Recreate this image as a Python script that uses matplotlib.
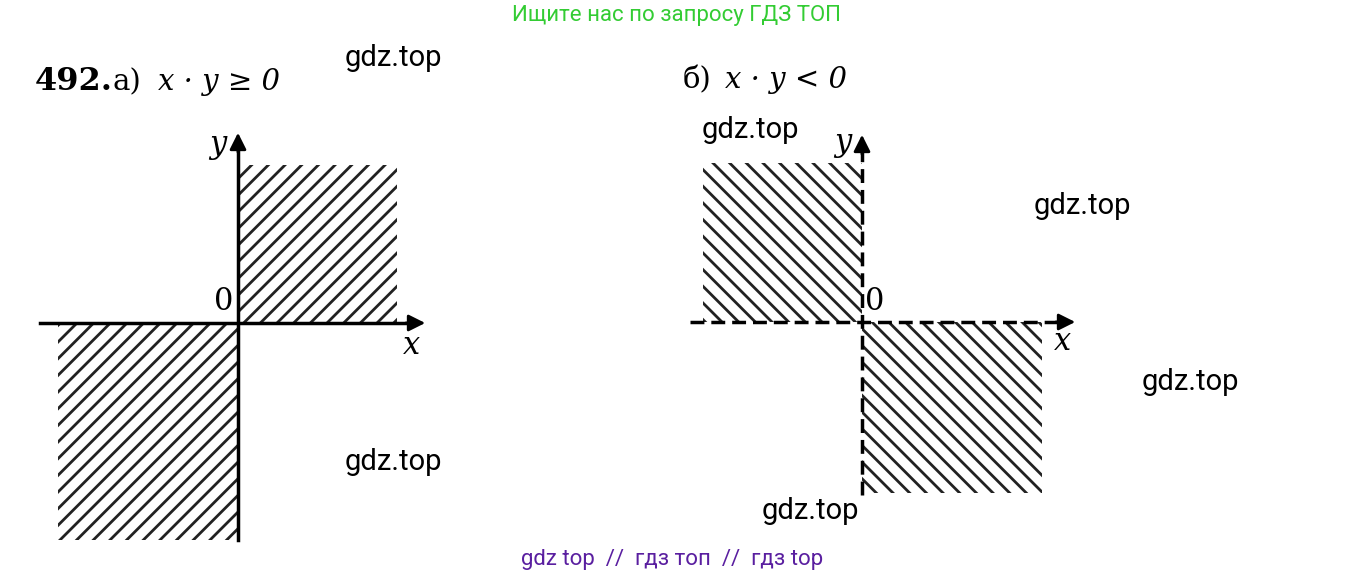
import matplotlib
matplotlib.use("Agg")
import matplotlib.pyplot as plt
from matplotlib.patches import Rectangle

titles = ["492.", "а)", "x · y ≥ 0", "б)", "x · y < 0"]
watermark = "gdz.top"
header = "Ищите нас по запросу ГДЗ ТОП"
footer = "gdz top  //  гдз топ  //  гдз top"

fig = plt.figure(figsize=(13.47, 5.77), dpi=100)
ax = fig.add_axes([0, 0, 1, 1])
ax.set_xlim(0, 1347); ax.set_ylim(577, 0); ax.axis("off")
plt.rcParams['hatch.linewidth'] = 2.0

def panel(ox, oy, quads, hatch, ls, xl, xr, yt, yb):
    for (x0, y0, w, h) in quads:
        ax.add_patch(Rectangle((x0, y0), w, h, fill=False, hatch=hatch, lw=0, edgecolor='#222'))
    ax.plot([xl, xr - 15], [oy, oy], color='k', lw=2.5, ls=ls)
    ax.plot([ox, ox], [yb, yt + 15], color='k', lw=2.5, ls=ls)
    ax.annotate('', xy=(xr, oy), xytext=(xr - 25, oy),
                arrowprops=dict(arrowstyle='-|>', color='k', lw=2, mutation_scale=25))
    ax.annotate('', xy=(ox, yt), xytext=(ox, yt + 25),
                arrowprops=dict(arrowstyle='-|>', color='k', lw=2, mutation_scale=25))

panel(238, 323, [(238, 165, 159, 158), (58, 323, 180, 217)], '//', '-', 40, 428, 130, 540)
panel(862, 322, [(703, 163, 159, 159), (862, 322, 180, 171)], '\\\\', (0, (4, 2)), 690, 1078, 132, 495)

serif = dict(family='DejaVu Serif')
ax.text(35, 82, titles[0], fontsize=23, fontweight='bold', va='center', **serif)
ax.text(112, 82, titles[1], fontsize=21, va='center', **serif)
ax.text(158, 82, titles[2], fontsize=21, va='center', style='italic', **serif)
ax.text(683, 80, titles[3], fontsize=21, va='center', **serif)
ax.text(725, 80, titles[4], fontsize=21, va='center', style='italic', **serif)
for (x, y, s) in [(218, 145, 'y'), (412, 345, 'x'), (224, 302, '0'),
                  (843, 143, 'y'), (1063, 342, 'x'), (875, 302, '0')]:
    ax.text(x, y, s, fontsize=22, va='center', ha='center',
            style='normal' if s == '0' else 'italic', **serif)
for (x, y) in [(393, 58), (393, 462), (750, 130), (1082, 206), (1190, 382), (810, 511)]:
    ax.text(x, y, watermark, fontsize=21, ha='center', va='center', family='Roboto')
ax.text(677, 15, header, fontsize=16, ha='center', va='center', color='#33cc33', family='Roboto')
ax.text(672, 559, footer, fontsize=16, ha='center', va='center', color='#5a1fa0', family='Roboto')
fig.savefig("out.png", dpi=100)
